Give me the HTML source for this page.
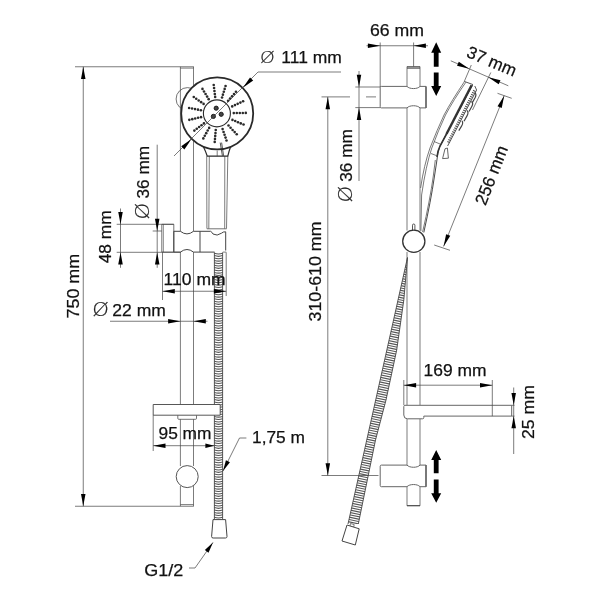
<!DOCTYPE html>
<html><head><meta charset="utf-8"><title>Shower set dimensions</title>
<style>
html,body{margin:0;padding:0;background:#fff;}
svg{display:block;filter:grayscale(1)}
text{font-family:"Liberation Sans",sans-serif;fill:#111;stroke:#111;stroke-width:0.25px;}
text.dia{font-family:"DejaVu Sans Light","DejaVu Sans",sans-serif;fill:#222;stroke:#222;stroke-width:0.2px;}
</style></head>
<body>
<svg width="600" height="600" viewBox="0 0 600 600">
<rect width="600" height="600" fill="#fff"/>
<circle cx="187.50" cy="99.00" r="11.40" stroke="#444" stroke-width="0.75" fill="none"/>
<line x1="180.40" y1="66.75" x2="180.40" y2="231.30" stroke="#444" stroke-width="0.7" />
<line x1="180.40" y1="252.10" x2="180.40" y2="404.50" stroke="#444" stroke-width="0.7" />
<line x1="180.40" y1="419.30" x2="180.40" y2="466.00" stroke="#444" stroke-width="0.7" />
<line x1="180.40" y1="486.00" x2="180.40" y2="506.20" stroke="#444" stroke-width="0.7" />
<line x1="193.50" y1="66.75" x2="193.50" y2="231.30" stroke="#444" stroke-width="0.7" />
<line x1="193.50" y1="252.10" x2="193.50" y2="404.50" stroke="#444" stroke-width="0.7" />
<line x1="193.50" y1="419.30" x2="193.50" y2="466.00" stroke="#444" stroke-width="0.7" />
<line x1="193.50" y1="486.00" x2="193.50" y2="506.20" stroke="#444" stroke-width="0.7" />
<line x1="180.40" y1="68.10" x2="193.50" y2="68.10" stroke="#444" stroke-width="0.7" />
<line x1="180.40" y1="504.60" x2="193.50" y2="504.60" stroke="#444" stroke-width="0.7" />
<line x1="75.00" y1="66.75" x2="193.75" y2="66.75" stroke="#444" stroke-width="0.7" />
<line x1="75.00" y1="506.25" x2="193.75" y2="506.25" stroke="#444" stroke-width="0.7" />
<line x1="83.25" y1="66.75" x2="83.25" y2="506.25" stroke="#444" stroke-width="0.7" />
<polygon points="83.25,66.75 81.00,79.05 85.50,79.05" fill="#000" stroke="none" stroke-width="0"/>
<polygon points="83.25,506.25 85.50,493.95 81.00,493.95" fill="#000" stroke="none" stroke-width="0"/>
<text x="78.70" y="286.20" font-size="17.2" text-anchor="middle" transform="rotate(-90 78.70 286.20)" textLength="64.5" lengthAdjust="spacingAndGlyphs">750 mm</text>
<path d="M206.7,156.2 L206.9,228.6 M209.3,156.2 L208.8,228.6 M224.8,156.2 L224.7,228.6 M227.8,156.2 L226.5,228.6" stroke="#444" stroke-width="0.7" fill="none" />
<line x1="206.90" y1="228.80" x2="226.50" y2="228.80" stroke="#444" stroke-width="0.75" />
<circle cx="217.20" cy="113.40" r="36.00" stroke="#2a2a2a" stroke-width="1.8" fill="#fff"/>
<path d="M203.5,147 Q205.5,151 207.3,156.2 L227.8,156.2 Q229,151 230.6,146.8" stroke="#2a2a2a" stroke-width="1.2" fill="none" />
<line x1="217.20" y1="150.50" x2="217.20" y2="156.20" stroke="#444" stroke-width="0.7" />
<path d="M220.2,142.6 L222.4,155.8 M221.6,142.6 L223.6,155.8" stroke="#2a2a2a" stroke-width="0.8" fill="none" />
<circle cx="216.90" cy="113.40" r="13.50" stroke="#2a2a2a" stroke-width="1.1" fill="none"/>
<circle cx="216.20" cy="108.20" r="2.10" stroke="#111" stroke-width="0.9" fill="#444"/>
<circle cx="213.40" cy="116.40" r="2.10" stroke="#111" stroke-width="0.9" fill="#444"/>
<circle cx="221.20" cy="114.30" r="2.10" stroke="#111" stroke-width="0.9" fill="#444"/>
<circle cx="215.18" cy="96.92" r="1.3" fill="#2a2a2a"/>
<circle cx="214.81" cy="93.95" r="1.3" fill="#2a2a2a"/>
<circle cx="214.45" cy="90.97" r="1.3" fill="#2a2a2a"/>
<circle cx="214.08" cy="87.99" r="1.3" fill="#2a2a2a"/>
<circle cx="213.71" cy="85.01" r="1.3" fill="#2a2a2a"/>
<circle cx="222.05" cy="97.53" r="1.3" fill="#2a2a2a"/>
<circle cx="222.93" cy="94.66" r="1.3" fill="#2a2a2a"/>
<circle cx="223.81" cy="91.79" r="1.3" fill="#2a2a2a"/>
<circle cx="224.68" cy="88.92" r="1.3" fill="#2a2a2a"/>
<circle cx="225.56" cy="86.05" r="1.3" fill="#2a2a2a"/>
<circle cx="228.09" cy="100.87" r="1.3" fill="#2a2a2a"/>
<circle cx="230.06" cy="98.61" r="1.3" fill="#2a2a2a"/>
<circle cx="232.03" cy="96.34" r="1.3" fill="#2a2a2a"/>
<circle cx="234.00" cy="94.08" r="1.3" fill="#2a2a2a"/>
<circle cx="235.96" cy="91.82" r="1.3" fill="#2a2a2a"/>
<circle cx="232.24" cy="106.38" r="1.3" fill="#2a2a2a"/>
<circle cx="234.96" cy="105.12" r="1.3" fill="#2a2a2a"/>
<circle cx="237.68" cy="103.85" r="1.3" fill="#2a2a2a"/>
<circle cx="240.40" cy="102.58" r="1.3" fill="#2a2a2a"/>
<circle cx="243.12" cy="101.31" r="1.3" fill="#2a2a2a"/>
<circle cx="233.80" cy="113.11" r="1.3" fill="#2a2a2a"/>
<circle cx="236.80" cy="113.06" r="1.3" fill="#2a2a2a"/>
<circle cx="239.80" cy="113.01" r="1.3" fill="#2a2a2a"/>
<circle cx="242.80" cy="112.95" r="1.3" fill="#2a2a2a"/>
<circle cx="245.80" cy="112.90" r="1.3" fill="#2a2a2a"/>
<circle cx="232.48" cy="119.89" r="1.3" fill="#2a2a2a"/>
<circle cx="235.24" cy="121.06" r="1.3" fill="#2a2a2a"/>
<circle cx="238.00" cy="122.23" r="1.3" fill="#2a2a2a"/>
<circle cx="240.76" cy="123.40" r="1.3" fill="#2a2a2a"/>
<circle cx="243.53" cy="124.57" r="1.3" fill="#2a2a2a"/>
<circle cx="228.52" cy="125.54" r="1.3" fill="#2a2a2a"/>
<circle cx="230.57" cy="127.73" r="1.3" fill="#2a2a2a"/>
<circle cx="232.61" cy="129.93" r="1.3" fill="#2a2a2a"/>
<circle cx="234.66" cy="132.12" r="1.3" fill="#2a2a2a"/>
<circle cx="236.71" cy="134.32" r="1.3" fill="#2a2a2a"/>
<circle cx="222.60" cy="129.10" r="1.3" fill="#2a2a2a"/>
<circle cx="223.58" cy="131.93" r="1.3" fill="#2a2a2a"/>
<circle cx="224.56" cy="134.77" r="1.3" fill="#2a2a2a"/>
<circle cx="225.53" cy="137.61" r="1.3" fill="#2a2a2a"/>
<circle cx="226.51" cy="140.44" r="1.3" fill="#2a2a2a"/>
<circle cx="215.75" cy="129.94" r="1.3" fill="#2a2a2a"/>
<circle cx="215.49" cy="132.93" r="1.3" fill="#2a2a2a"/>
<circle cx="215.23" cy="135.91" r="1.3" fill="#2a2a2a"/>
<circle cx="214.97" cy="138.90" r="1.3" fill="#2a2a2a"/>
<circle cx="214.71" cy="141.89" r="1.3" fill="#2a2a2a"/>
<circle cx="209.15" cy="127.92" r="1.3" fill="#2a2a2a"/>
<circle cx="207.70" cy="130.54" r="1.3" fill="#2a2a2a"/>
<circle cx="206.24" cy="133.17" r="1.3" fill="#2a2a2a"/>
<circle cx="204.79" cy="135.79" r="1.3" fill="#2a2a2a"/>
<circle cx="203.33" cy="138.41" r="1.3" fill="#2a2a2a"/>
<circle cx="203.94" cy="123.39" r="1.3" fill="#2a2a2a"/>
<circle cx="201.55" cy="125.20" r="1.3" fill="#2a2a2a"/>
<circle cx="199.15" cy="127.00" r="1.3" fill="#2a2a2a"/>
<circle cx="196.75" cy="128.81" r="1.3" fill="#2a2a2a"/>
<circle cx="194.36" cy="130.61" r="1.3" fill="#2a2a2a"/>
<circle cx="201.03" cy="117.13" r="1.3" fill="#2a2a2a"/>
<circle cx="198.10" cy="117.81" r="1.3" fill="#2a2a2a"/>
<circle cx="195.18" cy="118.48" r="1.3" fill="#2a2a2a"/>
<circle cx="192.26" cy="119.16" r="1.3" fill="#2a2a2a"/>
<circle cx="189.33" cy="119.83" r="1.3" fill="#2a2a2a"/>
<circle cx="200.90" cy="110.23" r="1.3" fill="#2a2a2a"/>
<circle cx="197.96" cy="109.66" r="1.3" fill="#2a2a2a"/>
<circle cx="195.02" cy="109.09" r="1.3" fill="#2a2a2a"/>
<circle cx="192.07" cy="108.52" r="1.3" fill="#2a2a2a"/>
<circle cx="189.13" cy="107.94" r="1.3" fill="#2a2a2a"/>
<circle cx="203.60" cy="103.88" r="1.3" fill="#2a2a2a"/>
<circle cx="201.14" cy="102.16" r="1.3" fill="#2a2a2a"/>
<circle cx="198.69" cy="100.44" r="1.3" fill="#2a2a2a"/>
<circle cx="196.23" cy="98.72" r="1.3" fill="#2a2a2a"/>
<circle cx="193.77" cy="97.00" r="1.3" fill="#2a2a2a"/>
<circle cx="208.65" cy="99.17" r="1.3" fill="#2a2a2a"/>
<circle cx="207.11" cy="96.60" r="1.3" fill="#2a2a2a"/>
<circle cx="205.56" cy="94.03" r="1.3" fill="#2a2a2a"/>
<circle cx="204.02" cy="91.46" r="1.3" fill="#2a2a2a"/>
<circle cx="202.47" cy="88.89" r="1.3" fill="#2a2a2a"/>
<line x1="258.00" y1="72.00" x2="174.00" y2="156.00" stroke="#444" stroke-width="0.7" />
<line x1="258.00" y1="72.00" x2="341.00" y2="72.00" stroke="#444" stroke-width="0.7" />
<polygon points="242.90,87.70 253.19,80.59 250.01,77.41" fill="#000" stroke="none" stroke-width="0"/>
<polygon points="191.50,139.10 181.21,146.21 184.39,149.39" fill="#000" stroke="none" stroke-width="0"/>
<text class="dia" font-size="16.5" transform="translate(260.00 63.00) rotate(0) scale(1.14 1)">Ø</text>
<text x="281.30" y="62.70" font-size="17.2" text-anchor="start" textLength="60.5" lengthAdjust="spacingAndGlyphs">111 mm</text>
<path d="M161.8,224.3 H173.8 V252.1 H161.8 Z" stroke="#444" stroke-width="0.75" fill="none" />
<line x1="163.40" y1="224.30" x2="163.40" y2="252.10" stroke="#444" stroke-width="0.6" />
<path d="M173.8,231.3 H180.4 Q187,236.5 193.5,231.3 H210.6 M173.8,252.1 H180.4 Q187,246.9 193.5,252.1 H214.6 M173.8,231.3 V252.1 M200,231.3 V252.1 " stroke="#444" stroke-width="1.0" fill="none" />
<path d="M210.6,231.3 Q212,232 213,234 Q217,236.5 221.5,233.2 Q223,231.6 225.7,231.8 V250.5" stroke="#444" stroke-width="1.0" fill="none" />
<line x1="222.80" y1="252.10" x2="226.20" y2="252.10" stroke="#444" stroke-width="0.7" />
<g stroke="#555" stroke-width="1.05" fill="none"><path d="M214.4,253.20 q4.1,1.5 8.2,0"/><path d="M214.4,255.60 q4.1,1.5 8.2,0"/><path d="M214.4,258.00 q4.1,1.5 8.2,0"/><path d="M214.4,260.40 q4.1,1.5 8.2,0"/><path d="M214.4,262.80 q4.1,1.5 8.2,0"/><path d="M214.4,265.20 q4.1,1.5 8.2,0"/><path d="M214.4,267.60 q4.1,1.5 8.2,0"/><path d="M214.4,270.00 q4.1,1.5 8.2,0"/><path d="M214.4,272.40 q4.1,1.5 8.2,0"/><path d="M214.4,274.80 q4.1,1.5 8.2,0"/><path d="M214.4,277.20 q4.1,1.5 8.2,0"/><path d="M214.4,279.60 q4.1,1.5 8.2,0"/><path d="M214.4,282.00 q4.1,1.5 8.2,0"/><path d="M214.4,284.40 q4.1,1.5 8.2,0"/><path d="M214.4,286.80 q4.1,1.5 8.2,0"/><path d="M214.4,289.20 q4.1,1.5 8.2,0"/><path d="M214.4,291.60 q4.1,1.5 8.2,0"/><path d="M214.4,294.00 q4.1,1.5 8.2,0"/><path d="M214.4,296.40 q4.1,1.5 8.2,0"/><path d="M214.4,298.80 q4.1,1.5 8.2,0"/><path d="M214.4,301.20 q4.1,1.5 8.2,0"/><path d="M214.4,303.60 q4.1,1.5 8.2,0"/><path d="M214.4,306.00 q4.1,1.5 8.2,0"/><path d="M214.4,308.40 q4.1,1.5 8.2,0"/><path d="M214.4,310.80 q4.1,1.5 8.2,0"/><path d="M214.4,313.20 q4.1,1.5 8.2,0"/><path d="M214.4,315.60 q4.1,1.5 8.2,0"/><path d="M214.4,318.00 q4.1,1.5 8.2,0"/><path d="M214.4,320.40 q4.1,1.5 8.2,0"/><path d="M214.4,322.80 q4.1,1.5 8.2,0"/><path d="M214.4,325.20 q4.1,1.5 8.2,0"/><path d="M214.4,327.60 q4.1,1.5 8.2,0"/><path d="M214.4,330.00 q4.1,1.5 8.2,0"/><path d="M214.4,332.40 q4.1,1.5 8.2,0"/><path d="M214.4,334.80 q4.1,1.5 8.2,0"/><path d="M214.4,337.20 q4.1,1.5 8.2,0"/><path d="M214.4,339.60 q4.1,1.5 8.2,0"/><path d="M214.4,342.00 q4.1,1.5 8.2,0"/><path d="M214.4,344.40 q4.1,1.5 8.2,0"/><path d="M214.4,346.80 q4.1,1.5 8.2,0"/><path d="M214.4,349.20 q4.1,1.5 8.2,0"/><path d="M214.4,351.60 q4.1,1.5 8.2,0"/><path d="M214.4,354.00 q4.1,1.5 8.2,0"/><path d="M214.4,356.40 q4.1,1.5 8.2,0"/><path d="M214.4,358.80 q4.1,1.5 8.2,0"/><path d="M214.4,361.20 q4.1,1.5 8.2,0"/><path d="M214.4,363.60 q4.1,1.5 8.2,0"/><path d="M214.4,366.00 q4.1,1.5 8.2,0"/><path d="M214.4,368.40 q4.1,1.5 8.2,0"/><path d="M214.4,370.80 q4.1,1.5 8.2,0"/><path d="M214.4,373.20 q4.1,1.5 8.2,0"/><path d="M214.4,375.60 q4.1,1.5 8.2,0"/><path d="M214.4,378.00 q4.1,1.5 8.2,0"/><path d="M214.4,380.40 q4.1,1.5 8.2,0"/><path d="M214.4,382.80 q4.1,1.5 8.2,0"/><path d="M214.4,385.20 q4.1,1.5 8.2,0"/><path d="M214.4,387.60 q4.1,1.5 8.2,0"/><path d="M214.4,390.00 q4.1,1.5 8.2,0"/><path d="M214.4,392.40 q4.1,1.5 8.2,0"/><path d="M214.4,394.80 q4.1,1.5 8.2,0"/><path d="M214.4,397.20 q4.1,1.5 8.2,0"/><path d="M214.4,399.60 q4.1,1.5 8.2,0"/><path d="M214.4,402.00 q4.1,1.5 8.2,0"/><path d="M214.4,404.40 q4.1,1.5 8.2,0"/><path d="M214.4,406.80 q4.1,1.5 8.2,0"/><path d="M214.4,409.20 q4.1,1.5 8.2,0"/><path d="M214.4,411.60 q4.1,1.5 8.2,0"/><path d="M214.4,414.00 q4.1,1.5 8.2,0"/><path d="M214.4,416.40 q4.1,1.5 8.2,0"/><path d="M214.4,418.80 q4.1,1.5 8.2,0"/><path d="M214.4,421.20 q4.1,1.5 8.2,0"/><path d="M214.4,423.60 q4.1,1.5 8.2,0"/><path d="M214.4,426.00 q4.1,1.5 8.2,0"/><path d="M214.4,428.40 q4.1,1.5 8.2,0"/><path d="M214.4,430.80 q4.1,1.5 8.2,0"/><path d="M214.4,433.20 q4.1,1.5 8.2,0"/><path d="M214.4,435.60 q4.1,1.5 8.2,0"/><path d="M214.4,438.00 q4.1,1.5 8.2,0"/><path d="M214.4,440.40 q4.1,1.5 8.2,0"/><path d="M214.4,442.80 q4.1,1.5 8.2,0"/><path d="M214.4,445.20 q4.1,1.5 8.2,0"/><path d="M214.4,447.60 q4.1,1.5 8.2,0"/><path d="M214.4,450.00 q4.1,1.5 8.2,0"/><path d="M214.4,452.40 q4.1,1.5 8.2,0"/><path d="M214.4,454.80 q4.1,1.5 8.2,0"/><path d="M214.4,457.20 q4.1,1.5 8.2,0"/><path d="M214.4,459.60 q4.1,1.5 8.2,0"/><path d="M214.4,462.00 q4.1,1.5 8.2,0"/><path d="M214.4,464.40 q4.1,1.5 8.2,0"/><path d="M214.4,466.80 q4.1,1.5 8.2,0"/><path d="M214.4,469.20 q4.1,1.5 8.2,0"/><path d="M214.4,471.60 q4.1,1.5 8.2,0"/><path d="M214.4,474.00 q4.1,1.5 8.2,0"/><path d="M214.4,476.40 q4.1,1.5 8.2,0"/><path d="M214.4,478.80 q4.1,1.5 8.2,0"/><path d="M214.4,481.20 q4.1,1.5 8.2,0"/><path d="M214.4,483.60 q4.1,1.5 8.2,0"/><path d="M214.4,486.00 q4.1,1.5 8.2,0"/><path d="M214.4,488.40 q4.1,1.5 8.2,0"/><path d="M214.4,490.80 q4.1,1.5 8.2,0"/><path d="M214.4,493.20 q4.1,1.5 8.2,0"/><path d="M214.4,495.60 q4.1,1.5 8.2,0"/><path d="M214.4,498.00 q4.1,1.5 8.2,0"/><path d="M214.4,500.40 q4.1,1.5 8.2,0"/><path d="M214.4,502.80 q4.1,1.5 8.2,0"/><path d="M214.4,505.20 q4.1,1.5 8.2,0"/><path d="M214.4,507.60 q4.1,1.5 8.2,0"/><path d="M214.4,510.00 q4.1,1.5 8.2,0"/><path d="M214.4,512.40 q4.1,1.5 8.2,0"/><path d="M214.4,514.80 q4.1,1.5 8.2,0"/><path d="M214.4,517.20 q4.1,1.5 8.2,0"/></g>
<line x1="214.40" y1="252.40" x2="214.40" y2="519.50" stroke="#444" stroke-width="0.9" />
<line x1="222.60" y1="252.40" x2="222.60" y2="519.50" stroke="#444" stroke-width="0.9" />
<path d="M213,519.6 H225.6 L227,536.5 Q227,538 225.5,538 H213.1 Q211.6,538 211.6,536.5 Z" stroke="#444" stroke-width="1.0" fill="#fff" />
<path d="M153.2,404.5 H220.2 V415.2 H153.2 Z" stroke="#444" stroke-width="0.9" fill="#fff" />
<path d="M177.8,415.4 V418.4 Q177.8,419.3 178.8,419.3 H195.5 Q196.5,419.3 196.5,418.4 V415.4" stroke="#444" stroke-width="0.75" fill="none" />
<circle cx="187.20" cy="476.60" r="11.00" stroke="#555" stroke-width="1.0" fill="#fff"/>
<line x1="120.50" y1="208.50" x2="120.50" y2="267.80" stroke="#444" stroke-width="0.7" />
<line x1="116.70" y1="224.30" x2="173.80" y2="224.30" stroke="#444" stroke-width="0.7" />
<line x1="116.70" y1="252.30" x2="181.00" y2="252.30" stroke="#444" stroke-width="0.7" />
<polygon points="120.50,224.30 122.75,212.00 118.25,212.00" fill="#000" stroke="none" stroke-width="0"/>
<polygon points="120.50,252.30 118.25,264.60 122.75,264.60" fill="#000" stroke="none" stroke-width="0"/>
<text x="111.00" y="236.80" font-size="17.2" text-anchor="middle" transform="rotate(-90 111.00 236.80)" textLength="53" lengthAdjust="spacingAndGlyphs">48 mm</text>
<line x1="157.20" y1="144.70" x2="157.20" y2="267.80" stroke="#444" stroke-width="0.7" />
<line x1="152.70" y1="231.00" x2="161.80" y2="231.00" stroke="#444" stroke-width="0.7" />
<polygon points="157.20,231.00 159.45,218.70 154.95,218.70" fill="#000" stroke="none" stroke-width="0"/>
<polygon points="157.20,252.30 154.95,264.60 159.45,264.60" fill="#000" stroke="none" stroke-width="0"/>
<text x="149.20" y="172.20" font-size="17.2" text-anchor="middle" transform="rotate(-90 149.20 172.20)" textLength="52.5" lengthAdjust="spacingAndGlyphs">36 mm</text>
<text class="dia" font-size="18.6" transform="translate(149.20 219.60) rotate(-90) scale(1.14 1)">Ø</text>
<line x1="162.50" y1="252.30" x2="162.50" y2="300.00" stroke="#444" stroke-width="0.7" />
<line x1="226.20" y1="252.30" x2="226.20" y2="296.00" stroke="#444" stroke-width="0.7" />
<line x1="162.50" y1="291.25" x2="226.20" y2="291.25" stroke="#444" stroke-width="0.7" />
<polygon points="162.50,291.25 174.80,293.50 174.80,289.00" fill="#000" stroke="none" stroke-width="0"/>
<polygon points="226.20,291.25 213.90,289.00 213.90,293.50" fill="#000" stroke="none" stroke-width="0"/>
<text x="194.60" y="285.00" font-size="17.2" text-anchor="middle" textLength="62" lengthAdjust="spacingAndGlyphs">110 mm</text>
<line x1="110.00" y1="321.25" x2="207.50" y2="321.25" stroke="#444" stroke-width="0.7" />
<polygon points="180.40,321.25 168.10,319.00 168.10,323.50" fill="#000" stroke="none" stroke-width="0"/>
<polygon points="193.50,321.25 205.80,323.50 205.80,319.00" fill="#000" stroke="none" stroke-width="0"/>
<text class="dia" font-size="18.6" transform="translate(92.20 316.20) rotate(0) scale(1.14 1)">Ø</text>
<text x="112.30" y="316.00" font-size="17.2" text-anchor="start" textLength="53.5" lengthAdjust="spacingAndGlyphs">22 mm</text>
<line x1="153.20" y1="415.20" x2="153.20" y2="451.00" stroke="#444" stroke-width="0.7" />
<line x1="153.20" y1="445.70" x2="214.40" y2="445.70" stroke="#444" stroke-width="0.7" />
<polygon points="153.20,445.70 165.50,447.95 165.50,443.45" fill="#000" stroke="none" stroke-width="0"/>
<polygon points="214.40,445.70 205.40,443.45 205.40,447.95" fill="#000" stroke="none" stroke-width="0"/>
<text x="185.00" y="439.00" font-size="17.2" text-anchor="middle" textLength="53" lengthAdjust="spacingAndGlyphs">95 mm</text>
<path d="M246.4,438 H239.5 L223,471" stroke="#444" stroke-width="0.7" fill="none" />
<polygon points="223.00,471.00 229.93,462.17 225.91,460.16" fill="#000" stroke="none" stroke-width="0"/>
<text x="252.00" y="443.00" font-size="17.2" text-anchor="start" textLength="53" lengthAdjust="spacingAndGlyphs">1,75 m</text>
<path d="M189,568 H195 L213,542.4" stroke="#444" stroke-width="0.7" fill="none" />
<polygon points="213.00,542.40 204.83,550.10 208.51,552.69" fill="#000" stroke="none" stroke-width="0"/>
<text x="144.20" y="576.00" font-size="17.2" text-anchor="start" textLength="39" lengthAdjust="spacingAndGlyphs">G1/2</text>
<line x1="407.00" y1="66.60" x2="407.00" y2="86.40" stroke="#444" stroke-width="0.7" />
<line x1="407.00" y1="107.90" x2="407.00" y2="230.50" stroke="#444" stroke-width="0.7" />
<line x1="407.00" y1="252.00" x2="407.00" y2="405.50" stroke="#444" stroke-width="0.7" />
<line x1="407.00" y1="418.70" x2="407.00" y2="465.10" stroke="#444" stroke-width="0.7" />
<line x1="407.00" y1="486.70" x2="407.00" y2="505.80" stroke="#444" stroke-width="0.7" />
<line x1="420.00" y1="66.60" x2="420.00" y2="86.40" stroke="#444" stroke-width="0.7" />
<line x1="420.00" y1="107.90" x2="420.00" y2="230.50" stroke="#444" stroke-width="0.7" />
<line x1="420.00" y1="252.00" x2="420.00" y2="405.50" stroke="#444" stroke-width="0.7" />
<line x1="420.00" y1="418.70" x2="420.00" y2="465.10" stroke="#444" stroke-width="0.7" />
<line x1="420.00" y1="486.70" x2="420.00" y2="505.80" stroke="#444" stroke-width="0.7" />
<line x1="407.00" y1="66.90" x2="420.00" y2="66.90" stroke="#444" stroke-width="1.3" />
<line x1="407.00" y1="68.40" x2="420.00" y2="68.40" stroke="#444" stroke-width="0.7" />
<line x1="407.00" y1="505.70" x2="420.00" y2="505.70" stroke="#444" stroke-width="1.2" />
<path d="M407.0,86.4 H381.4 Q380.2,86.4 380.2,87.60000000000001 V106.7 Q380.2,107.9 381.4,107.9 H407.0 C409.5,105.0 417.5,105.0 420.0,107.9 H426 V86.4 H420.0 C417.5,89.30000000000001 409.5,89.30000000000001 407.0,86.4 Z" stroke="#666" stroke-width="1.0" fill="#fff" />
<line x1="426.00" y1="86.40" x2="426.00" y2="107.90" stroke="#666" stroke-width="1.5" />
<path d="M407.0,465.1 H381.4 Q380.2,465.1 380.2,466.3 V485.5 Q380.2,486.7 381.4,486.7 H407.0 C409.5,483.8 417.5,483.8 420.0,486.7 H426 V465.1 H420.0 C417.5,468.0 409.5,468.0 407.0,465.1 Z" stroke="#666" stroke-width="1.0" fill="#fff" />
<line x1="426.00" y1="465.10" x2="426.00" y2="486.70" stroke="#666" stroke-width="1.5" />
<path d="M404.9,405.3 H511.7 V416.1 H423.8 V417.6 Q423.8,418.8 422.6,418.8 H407.5 Q403.8,418.8 403.8,415 V406.5 Q403.8,405.3 404.9,405.3 Z" stroke="#666" stroke-width="1.0" fill="#fff" />
<line x1="492.30" y1="405.30" x2="492.30" y2="416.10" stroke="#444" stroke-width="0.7" />
<path d="M412.5,231 V225.2 Q412.5,224 413.7,224 Q414.9,224 414.9,225.2 V231" stroke="#444" stroke-width="0.9" fill="none" />
<circle cx="413.80" cy="241.30" r="11.10" stroke="#333" stroke-width="1.3" fill="#fff"/>
<polygon points="407.50,257.50 403.80,300.00 396.70,350.00 386.00,400.00 375.50,440.00 358.30,524.00 348.00,524.00" fill="#fff" stroke="none" stroke-width="0"/>
<defs><clipPath id="hc"><polygon points="407.5,257.5 403.8,300 396.7,350 386,400 375.5,440 358.3,524 348,524"/></clipPath></defs>
<g clip-path="url(#hc)" stroke="#555" stroke-width="1.1"><line x1="340" y1="241.60" x2="420" y2="258.40"/><line x1="340" y1="244.00" x2="420" y2="260.80"/><line x1="340" y1="246.40" x2="420" y2="263.20"/><line x1="340" y1="248.80" x2="420" y2="265.60"/><line x1="340" y1="251.20" x2="420" y2="268.00"/><line x1="340" y1="253.60" x2="420" y2="270.40"/><line x1="340" y1="256.00" x2="420" y2="272.80"/><line x1="340" y1="258.40" x2="420" y2="275.20"/><line x1="340" y1="260.80" x2="420" y2="277.60"/><line x1="340" y1="263.20" x2="420" y2="280.00"/><line x1="340" y1="265.60" x2="420" y2="282.40"/><line x1="340" y1="268.00" x2="420" y2="284.80"/><line x1="340" y1="270.40" x2="420" y2="287.20"/><line x1="340" y1="272.80" x2="420" y2="289.60"/><line x1="340" y1="275.20" x2="420" y2="292.00"/><line x1="340" y1="277.60" x2="420" y2="294.40"/><line x1="340" y1="280.00" x2="420" y2="296.80"/><line x1="340" y1="282.40" x2="420" y2="299.20"/><line x1="340" y1="284.80" x2="420" y2="301.60"/><line x1="340" y1="287.20" x2="420" y2="304.00"/><line x1="340" y1="289.60" x2="420" y2="306.40"/><line x1="340" y1="292.00" x2="420" y2="308.80"/><line x1="340" y1="294.40" x2="420" y2="311.20"/><line x1="340" y1="296.80" x2="420" y2="313.60"/><line x1="340" y1="299.20" x2="420" y2="316.00"/><line x1="340" y1="301.60" x2="420" y2="318.40"/><line x1="340" y1="304.00" x2="420" y2="320.80"/><line x1="340" y1="306.40" x2="420" y2="323.20"/><line x1="340" y1="308.80" x2="420" y2="325.60"/><line x1="340" y1="311.20" x2="420" y2="328.00"/><line x1="340" y1="313.60" x2="420" y2="330.40"/><line x1="340" y1="316.00" x2="420" y2="332.80"/><line x1="340" y1="318.40" x2="420" y2="335.20"/><line x1="340" y1="320.80" x2="420" y2="337.60"/><line x1="340" y1="323.20" x2="420" y2="340.00"/><line x1="340" y1="325.60" x2="420" y2="342.40"/><line x1="340" y1="328.00" x2="420" y2="344.80"/><line x1="340" y1="330.40" x2="420" y2="347.20"/><line x1="340" y1="332.80" x2="420" y2="349.60"/><line x1="340" y1="335.20" x2="420" y2="352.00"/><line x1="340" y1="337.60" x2="420" y2="354.40"/><line x1="340" y1="340.00" x2="420" y2="356.80"/><line x1="340" y1="342.40" x2="420" y2="359.20"/><line x1="340" y1="344.80" x2="420" y2="361.60"/><line x1="340" y1="347.20" x2="420" y2="364.00"/><line x1="340" y1="349.60" x2="420" y2="366.40"/><line x1="340" y1="352.00" x2="420" y2="368.80"/><line x1="340" y1="354.40" x2="420" y2="371.20"/><line x1="340" y1="356.80" x2="420" y2="373.60"/><line x1="340" y1="359.20" x2="420" y2="376.00"/><line x1="340" y1="361.60" x2="420" y2="378.40"/><line x1="340" y1="364.00" x2="420" y2="380.80"/><line x1="340" y1="366.40" x2="420" y2="383.20"/><line x1="340" y1="368.80" x2="420" y2="385.60"/><line x1="340" y1="371.20" x2="420" y2="388.00"/><line x1="340" y1="373.60" x2="420" y2="390.40"/><line x1="340" y1="376.00" x2="420" y2="392.80"/><line x1="340" y1="378.40" x2="420" y2="395.20"/><line x1="340" y1="380.80" x2="420" y2="397.60"/><line x1="340" y1="383.20" x2="420" y2="400.00"/><line x1="340" y1="385.60" x2="420" y2="402.40"/><line x1="340" y1="388.00" x2="420" y2="404.80"/><line x1="340" y1="390.40" x2="420" y2="407.20"/><line x1="340" y1="392.80" x2="420" y2="409.60"/><line x1="340" y1="395.20" x2="420" y2="412.00"/><line x1="340" y1="397.60" x2="420" y2="414.40"/><line x1="340" y1="400.00" x2="420" y2="416.80"/><line x1="340" y1="402.40" x2="420" y2="419.20"/><line x1="340" y1="404.80" x2="420" y2="421.60"/><line x1="340" y1="407.20" x2="420" y2="424.00"/><line x1="340" y1="409.60" x2="420" y2="426.40"/><line x1="340" y1="412.00" x2="420" y2="428.80"/><line x1="340" y1="414.40" x2="420" y2="431.20"/><line x1="340" y1="416.80" x2="420" y2="433.60"/><line x1="340" y1="419.20" x2="420" y2="436.00"/><line x1="340" y1="421.60" x2="420" y2="438.40"/><line x1="340" y1="424.00" x2="420" y2="440.80"/><line x1="340" y1="426.40" x2="420" y2="443.20"/><line x1="340" y1="428.80" x2="420" y2="445.60"/><line x1="340" y1="431.20" x2="420" y2="448.00"/><line x1="340" y1="433.60" x2="420" y2="450.40"/><line x1="340" y1="436.00" x2="420" y2="452.80"/><line x1="340" y1="438.40" x2="420" y2="455.20"/><line x1="340" y1="440.80" x2="420" y2="457.60"/><line x1="340" y1="443.20" x2="420" y2="460.00"/><line x1="340" y1="445.60" x2="420" y2="462.40"/><line x1="340" y1="448.00" x2="420" y2="464.80"/><line x1="340" y1="450.40" x2="420" y2="467.20"/><line x1="340" y1="452.80" x2="420" y2="469.60"/><line x1="340" y1="455.20" x2="420" y2="472.00"/><line x1="340" y1="457.60" x2="420" y2="474.40"/><line x1="340" y1="460.00" x2="420" y2="476.80"/><line x1="340" y1="462.40" x2="420" y2="479.20"/><line x1="340" y1="464.80" x2="420" y2="481.60"/><line x1="340" y1="467.20" x2="420" y2="484.00"/><line x1="340" y1="469.60" x2="420" y2="486.40"/><line x1="340" y1="472.00" x2="420" y2="488.80"/><line x1="340" y1="474.40" x2="420" y2="491.20"/><line x1="340" y1="476.80" x2="420" y2="493.60"/><line x1="340" y1="479.20" x2="420" y2="496.00"/><line x1="340" y1="481.60" x2="420" y2="498.40"/><line x1="340" y1="484.00" x2="420" y2="500.80"/><line x1="340" y1="486.40" x2="420" y2="503.20"/><line x1="340" y1="488.80" x2="420" y2="505.60"/><line x1="340" y1="491.20" x2="420" y2="508.00"/><line x1="340" y1="493.60" x2="420" y2="510.40"/><line x1="340" y1="496.00" x2="420" y2="512.80"/><line x1="340" y1="498.40" x2="420" y2="515.20"/><line x1="340" y1="500.80" x2="420" y2="517.60"/><line x1="340" y1="503.20" x2="420" y2="520.00"/><line x1="340" y1="505.60" x2="420" y2="522.40"/><line x1="340" y1="508.00" x2="420" y2="524.80"/><line x1="340" y1="510.40" x2="420" y2="527.20"/><line x1="340" y1="512.80" x2="420" y2="529.60"/><line x1="340" y1="515.20" x2="420" y2="532.00"/><line x1="340" y1="517.60" x2="420" y2="534.40"/><line x1="340" y1="520.00" x2="420" y2="536.80"/></g>
<path d="M407.5,257.5 L348,524" stroke="#444" stroke-width="0.9" fill="none" />
<path d="M407.5,257.5 L403.8,300 L396.7,350 L386,400 L375.5,440 L358.3,524" stroke="#444" stroke-width="0.9" fill="none" />
<polygon points="350.50,523.50 354.20,524.60 353.60,527.40 349.90,526.40" fill="#fff" stroke="#444" stroke-width="0.7"/>
<polygon points="347.00,525.00 359.20,528.80 355.30,545.00 342.00,541.00" fill="#fff" stroke="#444" stroke-width="1.0"/>
<path d="M464.5,81.5 Q452,100 444,115 Q437,130 430,148 Q424,165 420.6,188" stroke="#555" stroke-width="0.8" fill="none" />
<path d="M465.8,82.3 Q453.5,100 445.5,115 Q438.5,130 431.8,148 Q426,165 421.6,195 L420.9,231" stroke="#555" stroke-width="0.8" fill="none" />
<line x1="464.50" y1="81.50" x2="473.00" y2="84.60" stroke="#444" stroke-width="0.9" />
<path d="M472.6,85 L446.5,134 L440,146 Q437.5,152 436.5,163 L434.2,178 Q431,200 423.8,232.5" stroke="#333" stroke-width="0.9" fill="none" />
<path d="M471.6,85.2 L446.5,134" stroke="#333" stroke-width="2.4" fill="none" />
<path d="M446.5,134 L440,146 Q437.5,151 437,157" stroke="#333" stroke-width="1.6" fill="none" />
<path d="M435.3,160 L433.3,176 Q430,200 422.6,232" stroke="#555" stroke-width="0.8" fill="none" />
<path d="M474.8,86 L476.6,90 L458,126 L447.6,146" stroke="#444" stroke-width="0.9" fill="none" />
<line x1="474.6" y1="90.5" x2="448.2" y2="143" stroke="#555" stroke-width="3" stroke-dasharray="1.1 1.1"/>
<path d="M474.6,92.5 q2.3,1.6 0.6,5 l-2.6,4.6 M471.4,101.5 q2.3,1.6 0.4,5 l-2.8,5 M467,110.5 q2,1.8 0,5.4 l-3,5.4 M462,121 q1.6,1.8 -0.6,5.4 l-2.6,4.2" stroke="#444" stroke-width="1.2" fill="none" />
<line x1="434.00" y1="141.50" x2="440.00" y2="144.00" stroke="#444" stroke-width="0.7" />
<line x1="431.00" y1="153.50" x2="437.50" y2="156.00" stroke="#444" stroke-width="0.7" />
<polygon points="445.00,148.80 447.40,148.00 448.40,158.20 442.60,158.60" fill="#fff" stroke="#333" stroke-width="0.75"/>
<polygon points="436.20,42.30 441.20,52.80 438.60,52.80 438.60,66.70 433.80,66.70 433.80,52.80 431.20,52.80" fill="#000" stroke="none" stroke-width="0"/>
<polygon points="436.20,95.90 441.20,86.00 438.60,86.00 438.60,72.60 433.80,72.60 433.80,86.00 431.20,86.00" fill="#000" stroke="none" stroke-width="0"/>
<polygon points="436.20,450.00 441.20,460.00 438.60,460.00 438.60,473.30 433.80,473.30 433.80,460.00 431.20,460.00" fill="#000" stroke="none" stroke-width="0"/>
<polygon points="436.20,502.80 441.20,493.30 438.60,493.30 438.60,479.50 433.80,479.50 433.80,493.30 431.20,493.30" fill="#000" stroke="none" stroke-width="0"/>
<line x1="366.50" y1="45.75" x2="428.00" y2="45.75" stroke="#444" stroke-width="0.7" />
<line x1="380.20" y1="42.50" x2="380.20" y2="87.00" stroke="#444" stroke-width="0.7" />
<line x1="413.60" y1="42.50" x2="413.60" y2="66.50" stroke="#444" stroke-width="0.7" />
<polygon points="380.20,45.75 367.90,43.50 367.90,48.00" fill="#000" stroke="none" stroke-width="0"/>
<polygon points="413.60,45.75 425.90,48.00 425.90,43.50" fill="#000" stroke="none" stroke-width="0"/>
<text x="397.00" y="35.50" font-size="17.2" text-anchor="middle" textLength="54" lengthAdjust="spacingAndGlyphs">66 mm</text>
<line x1="359.00" y1="71.00" x2="359.00" y2="181.00" stroke="#444" stroke-width="0.7" />
<line x1="355.30" y1="87.00" x2="380.20" y2="87.00" stroke="#444" stroke-width="0.7" />
<line x1="355.30" y1="107.60" x2="380.20" y2="107.60" stroke="#444" stroke-width="0.7" />
<polygon points="359.00,87.00 361.25,74.70 356.75,74.70" fill="#000" stroke="none" stroke-width="0"/>
<polygon points="359.00,107.60 356.75,119.90 361.25,119.90" fill="#000" stroke="none" stroke-width="0"/>
<text x="352.00" y="155.50" font-size="17.2" text-anchor="middle" transform="rotate(-90 352.00 155.50)" textLength="52.5" lengthAdjust="spacingAndGlyphs">36 mm</text>
<text class="dia" font-size="18.6" transform="translate(352.00 202.60) rotate(-90) scale(1.14 1)">Ø</text>
<line x1="327.80" y1="96.90" x2="327.80" y2="475.50" stroke="#444" stroke-width="0.7" />
<line x1="321.50" y1="96.90" x2="350.00" y2="96.90" stroke="#444" stroke-width="0.7" />
<line x1="366.00" y1="96.90" x2="376.00" y2="96.90" stroke="#444" stroke-width="0.7" />
<line x1="321.50" y1="475.50" x2="378.50" y2="475.50" stroke="#444" stroke-width="0.7" />
<polygon points="327.80,96.90 325.55,109.20 330.05,109.20" fill="#000" stroke="none" stroke-width="0"/>
<polygon points="327.80,475.50 330.05,463.20 325.55,463.20" fill="#000" stroke="none" stroke-width="0"/>
<text x="321.30" y="271.50" font-size="17.2" text-anchor="middle" transform="rotate(-90 321.30 271.50)" textLength="100" lengthAdjust="spacingAndGlyphs">310-610 mm</text>
<line x1="403.80" y1="380.00" x2="403.80" y2="405.00" stroke="#444" stroke-width="0.7" />
<line x1="492.30" y1="380.00" x2="492.30" y2="405.30" stroke="#444" stroke-width="0.7" />
<line x1="403.80" y1="385.20" x2="492.30" y2="385.20" stroke="#444" stroke-width="0.7" />
<polygon points="403.80,385.20 416.10,387.45 416.10,382.95" fill="#000" stroke="none" stroke-width="0"/>
<polygon points="492.30,385.20 480.00,382.95 480.00,387.45" fill="#000" stroke="none" stroke-width="0"/>
<text x="455.00" y="376.30" font-size="17.2" text-anchor="middle" textLength="63" lengthAdjust="spacingAndGlyphs">169 mm</text>
<line x1="513.70" y1="387.50" x2="513.70" y2="454.00" stroke="#444" stroke-width="0.7" />
<line x1="511.70" y1="405.30" x2="514.50" y2="405.30" stroke="#444" stroke-width="0.7" />
<line x1="511.70" y1="416.10" x2="514.50" y2="416.10" stroke="#444" stroke-width="0.7" />
<polygon points="513.70,405.30 515.95,393.00 511.45,393.00" fill="#000" stroke="none" stroke-width="0"/>
<polygon points="513.70,416.00 511.45,428.30 515.95,428.30" fill="#000" stroke="none" stroke-width="0"/>
<text x="533.80" y="412.00" font-size="17.2" text-anchor="middle" transform="rotate(-90 533.80 412.00)" textLength="54" lengthAdjust="spacingAndGlyphs">25 mm</text>
<line x1="450.80" y1="60.80" x2="508.30" y2="85.80" stroke="#444" stroke-width="0.7" />
<line x1="471.30" y1="65.00" x2="464.20" y2="81.70" stroke="#444" stroke-width="0.7" />
<line x1="490.80" y1="72.50" x2="472.50" y2="110.00" stroke="#444" stroke-width="0.7" />
<polygon points="469.20,68.70 458.82,61.73 457.02,65.86" fill="#000" stroke="none" stroke-width="0"/>
<polygon points="488.30,77.30 498.68,84.27 500.48,80.14" fill="#000" stroke="none" stroke-width="0"/>
<text x="489.50" y="66.70" font-size="17.2" text-anchor="middle" transform="rotate(22.8 489.50 66.70)" textLength="52" lengthAdjust="spacingAndGlyphs">37 mm</text>
<line x1="504.20" y1="95.70" x2="443.60" y2="246.40" stroke="#444" stroke-width="0.7" />
<line x1="497.50" y1="93.30" x2="511.70" y2="98.30" stroke="#444" stroke-width="0.7" />
<line x1="434.20" y1="245.00" x2="450.00" y2="250.30" stroke="#444" stroke-width="0.7" />
<polygon points="504.20,95.70 497.52,106.27 501.70,107.95" fill="#000" stroke="none" stroke-width="0"/>
<polygon points="443.60,246.40 450.28,235.83 446.10,234.15" fill="#000" stroke="none" stroke-width="0"/>
<text x="496.80" y="177.30" font-size="17.2" text-anchor="middle" transform="rotate(-68.5 496.80 177.30)" textLength="62" lengthAdjust="spacingAndGlyphs">256 mm</text>
</svg>
</body></html>
